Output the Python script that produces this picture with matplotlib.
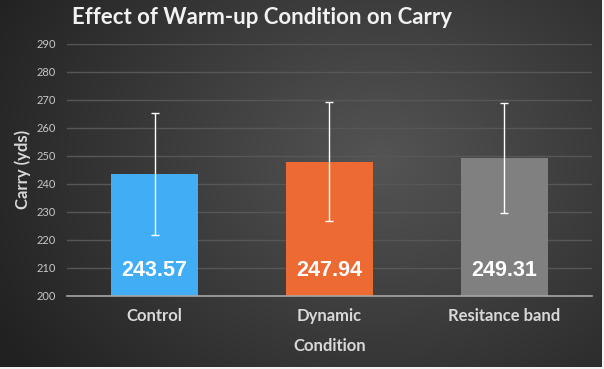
import numpy as np
import matplotlib.pyplot as plt

categories = ['Control', 'Dynamic', 'Resitance band']
means = [243.57, 247.94, 249.31]
errors = [21.8, 21.2, 19.7]
colors = ['#41adf5', '#ed6b33', '#808080']

fig = plt.figure(figsize=(6.04, 3.69), dpi=100)

# radial gradient background
bg = fig.add_axes([0, 0, 1, 1], zorder=-1)
yy, xx = np.mgrid[0:369, 0:604]
d = np.sqrt(((xx - 380) / 420.0) ** 2 + ((yy - 160) / 330.0) ** 2)
g = np.clip(0.33 - 0.19 * d, 0.13, 0.33)
g[-2:, :] = 0.95  # light edge at the bottom/right like the screenshot
g[:, -2:] = 0.95
bg.imshow(np.dstack([g, g, g]), aspect='auto', extent=[0, 1, 0, 1])
bg.axis('off')

ax = fig.add_axes([0.111, 0.198, 0.869, 0.683])
ax.patch.set_alpha(0)
x = np.arange(len(categories))
ax.bar(x, means, width=0.5, color=colors, zorder=2)
ax.errorbar(x, means, yerr=errors, fmt='none', ecolor='white', elinewidth=1,
            capsize=3, capthick=1, zorder=3)
for xi, m in zip(x, means):
    ax.annotate(f'{m:.2f}', (xi, 200), xytext=(0, 18), textcoords='offset points',
                ha='center', va='center', color='white', fontsize=15.5,
                fontweight='bold', family='Liberation Sans', zorder=4)

ax.set_ylim(200, 290)
ax.set_xlim(-0.5, 2.5)
ax.set_yticks(range(200, 291, 10))
ax.grid(axis='y', color='#575757', linewidth=1, zorder=0)
for s in ['top', 'right', 'left']:
    ax.spines[s].set_visible(False)
ax.spines['bottom'].set_color('#a6a6a6')
ax.spines['bottom'].set_linewidth(1.2)
ax.tick_params(axis='y', length=0, colors='#c8c8c8', labelsize=8, pad=8)
ax.tick_params(axis='x', length=0, colors='#d9d9d9', labelsize=12, pad=9)
ax.set_xticks(x)
ax.set_xticklabels(categories, fontweight='bold', family='Lato')
for lab in ax.get_yticklabels():
    lab.set_family('Lato')

ax.set_xlabel('Condition', color='#d9d9d9', fontsize=12, fontweight='bold',
              family='Lato', labelpad=10)
ax.set_ylabel('Carry (yds)', color='#d9d9d9', fontsize=12, fontweight='bold',
              family='Lato', labelpad=4)
fig.text(0.434, 0.953, 'Effect of Warm-up Condition on Carry', ha='center',
         va='center', color='#f2f2f2', fontsize=16, fontweight='bold', family='Lato')

fig.savefig('out.png', dpi=100)
